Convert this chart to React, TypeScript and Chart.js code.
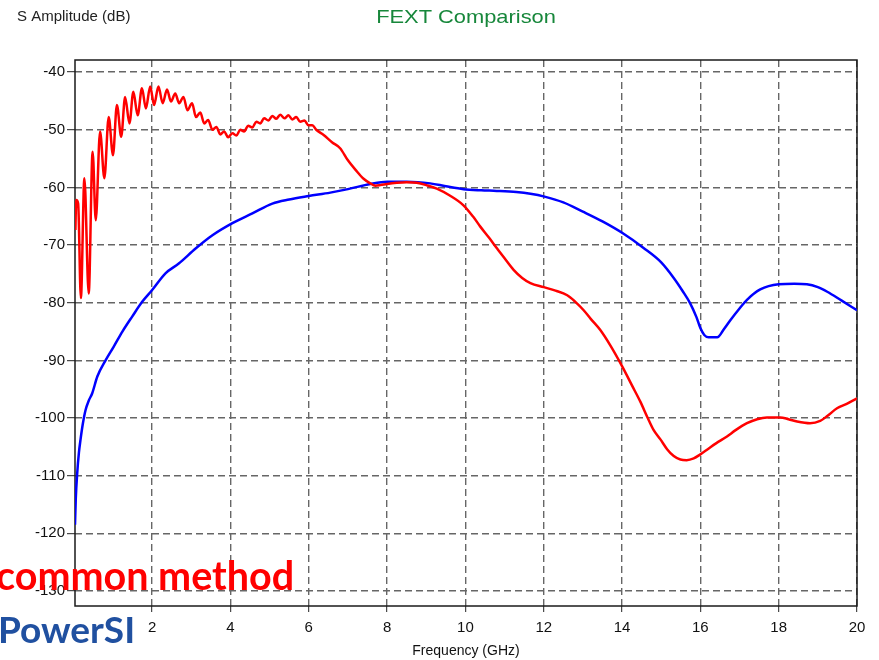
import React, { useEffect, useRef } from "react";
import { Chart, registerables } from "chart.js";

Chart.register(...registerables);

const TITLE = "FEXT Comparison";
const Y_TITLE = "S Amplitude (dB)";
const X_TITLE = "Frequency (GHz)";
const OVERLAY_RED = "common method";
const OVERLAY_BLUE = "PowerSI";

const X_TICKS = [2, 4, 6, 8, 10, 12, 14, 16, 18, 20];
const Y_TICKS = [-40, -50, -60, -70, -80, -90, -100, -110, -120, -130];
const X_MIN = 0.03;
const X_MAX = 20;
const Y_MIN = -132.6;
const Y_MAX = -37.9;

const redFreq = [
  0.04, 0.06, 0.11, 0.18, 0.27, 0.38, 0.48, 0.56, 0.67, 0.78, 0.89, 1.0, 1.1, 1.21, 1.31, 1.42,
  1.52, 1.63, 1.74, 1.84, 1.95, 2.05, 2.16, 2.27, 2.38, 2.48, 2.59, 2.69, 2.8, 2.9, 3.02, 3.12,
  3.23, 3.33, 3.43, 3.54, 3.64, 3.74, 3.84, 3.94, 4.05, 4.15, 4.25, 4.35, 4.45, 4.56, 4.66, 4.76,
  4.86, 4.97, 5.07, 5.17, 5.27, 5.38, 5.48, 5.58, 5.68, 5.78, 5.89, 5.99, 6.09, 6.19, 6.38, 6.6,
  6.8, 7.0, 7.2, 7.4, 7.57, 7.7, 7.83, 8.0, 8.25, 8.5, 8.76, 9.0, 9.27, 9.6, 9.95, 10.2, 10.38,
  10.6, 10.81, 11.0, 11.23, 11.45, 11.66, 12.0, 12.3, 12.6, 12.8, 13.02, 13.2, 13.44, 13.7, 14.0,
  14.25, 14.47, 14.65, 14.8, 14.98, 15.15, 15.32, 15.49, 15.65, 15.83, 16.0, 16.17, 16.4, 16.68,
  16.9, 17.19, 17.45, 17.7, 18.04, 18.25, 18.47, 18.8, 19.06, 19.25, 19.49, 19.75, 20.0,
];
const redDb = [
  -67.4, -62.2, -62.8, -79.2, -58.4, -78.4, -53.8, -65.7, -50.3, -58.4, -47.8, -54.4, -45.7, -51.2,
  -44.3, -48.9, -43.4, -47.5, -42.8, -46.3, -42.5, -45.7, -42.5, -45.4, -43.0, -45.1, -43.7, -45.4,
  -44.3, -46.6, -45.4, -47.8, -47.0, -48.9, -48.3, -50.0, -49.5, -50.8, -50.3, -51.3, -50.6, -51.0,
  -50.0, -50.3, -49.3, -49.6, -48.6, -48.9, -48.0, -48.4, -47.6, -48.1, -47.4, -48.0, -47.5, -48.2,
  -47.8, -48.6, -48.4, -49.2, -49.2, -50.0, -50.9, -52.2, -53.2, -55.3, -57.0, -58.5, -59.3, -59.7,
  -59.6, -59.4, -59.2, -59.1, -59.2, -59.6, -60.2, -61.4, -63.1, -65.1, -66.8, -68.7, -70.6, -72.3,
  -74.3, -75.7, -76.6, -77.3, -77.9, -78.7, -79.8, -81.3, -82.8, -84.7, -87.4, -91.0, -94.3, -97.2,
  -99.9, -102.0, -103.7, -105.4, -106.6, -107.2, -107.3, -107.0, -106.3, -105.5, -104.4, -103.2,
  -102.1, -100.9, -100.2, -99.9, -99.9, -100.2, -100.6, -100.9, -100.5, -99.6, -98.3, -97.5, -96.6,
];

const blueFreq = [
  0.03, 0.05, 0.087, 0.13, 0.17, 0.23, 0.3, 0.38, 0.47, 0.6, 0.81, 1.02, 1.24, 1.49, 1.75, 2.0,
  2.34, 2.68, 3.11, 3.54, 4.05, 4.56, 5.07, 5.5, 6.0, 6.55, 7.0, 7.57, 8.0, 8.5, 9.1, 9.5, 9.95,
  10.4, 10.8, 11.3, 11.66, 12.02, 12.5, 13.0, 13.5, 14.03, 14.55, 15.0, 15.32, 15.55, 15.74, 15.9,
  16.0, 16.1, 16.21, 16.43, 16.6, 16.77, 17.0, 17.19, 17.53, 18.0, 18.4, 18.72, 19.0, 19.24, 19.6,
  20.0,
];
const blueDb = [
  -118.5, -114.0, -109.5, -106.0, -103.8, -101.0, -98.6, -97.0, -95.7, -92.8, -90.0, -87.6, -85.0,
  -82.4, -79.8, -77.8, -74.9, -73.2, -70.6, -68.3, -66.2, -64.5, -62.8, -62.1, -61.5, -60.9, -60.3,
  -59.4, -59.0, -59.0, -59.3, -59.8, -60.3, -60.5, -60.6, -60.8, -61.1, -61.6, -62.6, -64.2, -65.9,
  -68.0, -70.5, -73.0, -75.7, -78.0, -80.1, -82.5, -84.4, -85.6, -86.0, -86.0, -84.6, -83.0, -81.0,
  -79.5, -77.7, -76.8, -76.7, -76.8, -77.3, -78.1, -79.6, -81.3,
];

const tickFont = { family: "'Liberation Sans Narrow', 'Arial Narrow', 'Liberation Sans', sans-serif", size: 15 };

const decorPlugin = {
  id: "decor",
  beforeDatasetsDraw(chart: any) {
    const { ctx, chartArea } = chart;
    ctx.save();
    ctx.strokeStyle = "#1a1a1a";
    ctx.lineWidth = 1.5;
    ctx.strokeRect(chartArea.left, chartArea.top, chartArea.right - chartArea.left, chartArea.bottom - chartArea.top);
    ctx.restore();
  },
  afterDraw(chart: any) {
    const { ctx, chartArea } = chart;
    ctx.save();
    ctx.fillStyle = "#222";
    ctx.textBaseline = "middle";
    ctx.textAlign = "left";
    ctx.font = "15px 'Liberation Sans', Arial, sans-serif";
    ctx.fillText(Y_TITLE, 17, 17);
    ctx.fillStyle = "#17873B";
    ctx.font = "19px 'Liberation Sans', Arial, sans-serif";
    ctx.translate((chartArea.left + chartArea.right) / 2, 18);
    ctx.scale(1.15, 1);
    ctx.textAlign = "center";
    ctx.fillText(TITLE, 0, 0);
    ctx.restore();
  },
};

export default function App() {
  const ref = useRef<HTMLCanvasElement>(null);
  useEffect(() => {
    if (!ref.current) return;
    const chart = new Chart(ref.current, {
      type: "line",
      data: {
        datasets: [
          {
            label: "common method",
            data: redFreq.map((f, i) => ({ x: f, y: redDb[i] })),
            borderColor: "#FF0000",
            borderWidth: 2.5,
            pointRadius: 0,
            cubicInterpolationMode: "monotone",
            fill: false,
          },
          {
            label: "PowerSI",
            data: blueFreq.map((f, i) => ({ x: f, y: blueDb[i] })),
            borderColor: "#0000FF",
            borderWidth: 2.5,
            pointRadius: 0,
            cubicInterpolationMode: "monotone",
            fill: false,
          },
        ],
      },
      options: {
        animation: false,
        responsive: false,
        maintainAspectRatio: false,
        layout: { padding: { left: 0, right: 22, top: 60, bottom: 0 } },
        plugins: { legend: { display: false }, tooltip: { enabled: false }, title: { display: false } },
        scales: {
          x: {
            type: "linear",
            min: X_MIN,
            max: X_MAX,
            afterBuildTicks: (s: any) => {
              s.ticks = X_TICKS.map((v) => ({ value: v }));
            },
            afterFit: (s: any) => {
              s.height = 54;
            },
            grid: { color: "#666666", lineWidth: 1.4, tickLength: 6, tickColor: "#222", tickWidth: 1 },
            border: { display: false, dash: [7, 4] },
            ticks: { color: "#111", font: tickFont, padding: 7, maxRotation: 0, autoSkip: false },
            title: {
              display: true,
              text: X_TITLE,
              color: "#111",
              font: { family: "'Liberation Sans', Arial, sans-serif", size: 14 },
              padding: { top: 0, bottom: 0 },
            },
          },
          y: {
            type: "linear",
            min: Y_MIN,
            max: Y_MAX,
            afterBuildTicks: (s: any) => {
              s.ticks = Y_TICKS.map((v) => ({ value: v }));
            },
            afterFit: (s: any) => {
              s.width = 75;
            },
            grid: { color: "#666666", lineWidth: 1.4, tickLength: 8, tickColor: "#222", tickWidth: 1 },
            border: { display: false, dash: [7, 4] },
            ticks: { color: "#111", font: tickFont, padding: 2 },
          },
        },
      },
      plugins: [decorPlugin],
    } as any);
    return () => chart.destroy();
  }, []);

  return (
    <div style={{ position: "fixed", left: 0, top: 0, width: 879, height: 660, overflow: "hidden", background: "#fff" }}>
      <canvas ref={ref} width={879} height={660} style={{ display: "block" }} />
      <div
        style={{
          position: "absolute",
          left: -4,
          top: 547,
          font: "bold 39.5px Lato, 'Open Sans', sans-serif",
          color: "#FF0000",
          whiteSpace: "nowrap",
          lineHeight: "56px",
        }}
      >
        {OVERLAY_RED}
      </div>
      <div
        style={{
          position: "absolute",
          left: -2,
          top: 604,
          font: "bold 37px Lato, 'Open Sans', sans-serif",
          color: "#2050A0",
          whiteSpace: "nowrap",
          lineHeight: "50px",
        }}
      >
        {OVERLAY_BLUE}
      </div>
    </div>
  );
}
